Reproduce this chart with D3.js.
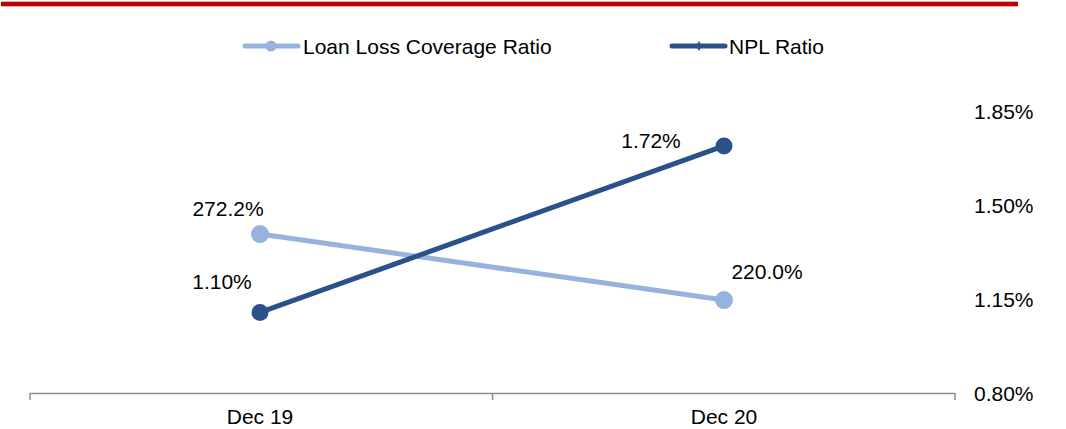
<!DOCTYPE html>
<html><head><meta charset="utf-8">
<script src="https://cdn.jsdelivr.net/npm/d3@7"></script>
<style>html,body{margin:0;padding:0;background:#fff;}svg{display:block;font-family:"Liberation Sans",Arial,sans-serif;}</style>
</head><body>
<svg id="c" width="1066" height="429"></svg>
<script>
const categories = ["Dec 19", "Dec 20"];
const coverageValues = [272.2, 220.0];
const coverageLabels = ["272.2%", "220.0%"];
const nplValues = [1.10, 1.72];
const nplLabels = ["1.10%", "1.72%"];
const rightTicks = [0.80, 1.15, 1.50, 1.85];
const seriesNames = ["Loan Loss Coverage Ratio", "NPL Ratio"];

const svg = d3.select("#c");
const light = "#95B3DE", dark = "#2A5189";
const fs = 21;

// top red rule
svg.append("rect").attr("x",1).attr("y",1).attr("width",1017).attr("height",6).attr("fill","#E8B0B0");
svg.append("rect").attr("x",1).attr("y",2).attr("width",1017).attr("height",4).attr("fill","#C00000");

const x = d3.scalePoint().domain(categories).range([260, 724]);
const xBand = d3.scaleLinear().domain([0, 2]).range([30, 955]);
const yR = d3.scaleLinear().domain([0.80, 1.85]).range([393, 111]);
const yL = d3.scaleLinear().domain([146.5, 369.5]).range([393, 111]);

// x axis
svg.append("line").attr("x1",xBand(0)).attr("x2",xBand(2)).attr("y1",393.5).attr("y2",393.5)
  .attr("stroke","#8c8c8c").attr("stroke-width",1.5);
[0,1,2].forEach(i=>{
  svg.append("line").attr("x1",xBand(i)).attr("x2",xBand(i)).attr("y1",393).attr("y2",400)
    .attr("stroke","#8c8c8c").attr("stroke-width",1.5);
});
svg.selectAll(".xl").data(categories).enter().append("text")
  .attr("x",d=>x(d)).attr("y",424).attr("text-anchor","middle")
  .attr("font-size",fs).attr("fill","#000").text(d=>d);

// right axis labels
svg.selectAll(".yl").data(rightTicks).enter().append("text")
  .attr("x",974).attr("y",d=>yR(d)+8).attr("font-size",fs).attr("fill","#000")
  .text(d=>d3.format(".2f")(d)+"%");

// lines
const covPts = categories.map((c,i)=>[x(c), yL(coverageValues[i])]);
const nplPts = categories.map((c,i)=>[x(c), yR(nplValues[i])]);
const line = d3.line();
svg.append("path").attr("d",line(covPts)).attr("stroke",light).attr("stroke-width",5).attr("fill","none");
svg.append("path").attr("d",line(nplPts)).attr("stroke",dark).attr("stroke-width",5).attr("fill","none");
svg.selectAll(".cm").data(covPts).enter().append("circle")
  .attr("cx",d=>d[0]).attr("cy",d=>d[1]).attr("r",9).attr("fill",light);
svg.selectAll(".nm").data(nplPts).enter().append("circle")
  .attr("cx",d=>d[0]).attr("cy",d=>d[1]).attr("r",8.5).attr("fill",dark);

// data labels
const covOff = [[-32,-18],[43,-21]];
const nplOff = [[-38,-23],[-73,2]];
covPts.forEach((p,i)=>svg.append("text").attr("x",p[0]+covOff[i][0]).attr("y",p[1]+covOff[i][1])
  .attr("text-anchor","middle").attr("font-size",fs).attr("fill","#000").text(coverageLabels[i]));
nplPts.forEach((p,i)=>svg.append("text").attr("x",p[0]+nplOff[i][0]).attr("y",p[1]+nplOff[i][1])
  .attr("text-anchor","middle").attr("font-size",fs).attr("fill","#000").text(nplLabels[i]));

// legend
const lg = svg.append("g");
lg.append("line").attr("x1",245).attr("x2",298).attr("y1",46).attr("y2",46).attr("stroke",light).attr("stroke-width",5).attr("stroke-linecap","round");
lg.append("circle").attr("cx",271).attr("cy",46).attr("r",5.5).attr("fill",light);
lg.append("text").attr("x",303).attr("y",54).attr("font-size",fs).attr("fill","#000").text(seriesNames[0]);
lg.append("line").attr("x1",672).attr("x2",725).attr("y1",46).attr("y2",46).attr("stroke",dark).attr("stroke-width",5).attr("stroke-linecap","round");
lg.append("path").attr("d",d3.symbol().type(d3.symbolDiamond).size(30)()).attr("transform","translate(699,46)").attr("fill",dark);
lg.append("text").attr("x",729).attr("y",54).attr("font-size",fs).attr("fill","#000").text(seriesNames[1]);
</script>
</body></html>
